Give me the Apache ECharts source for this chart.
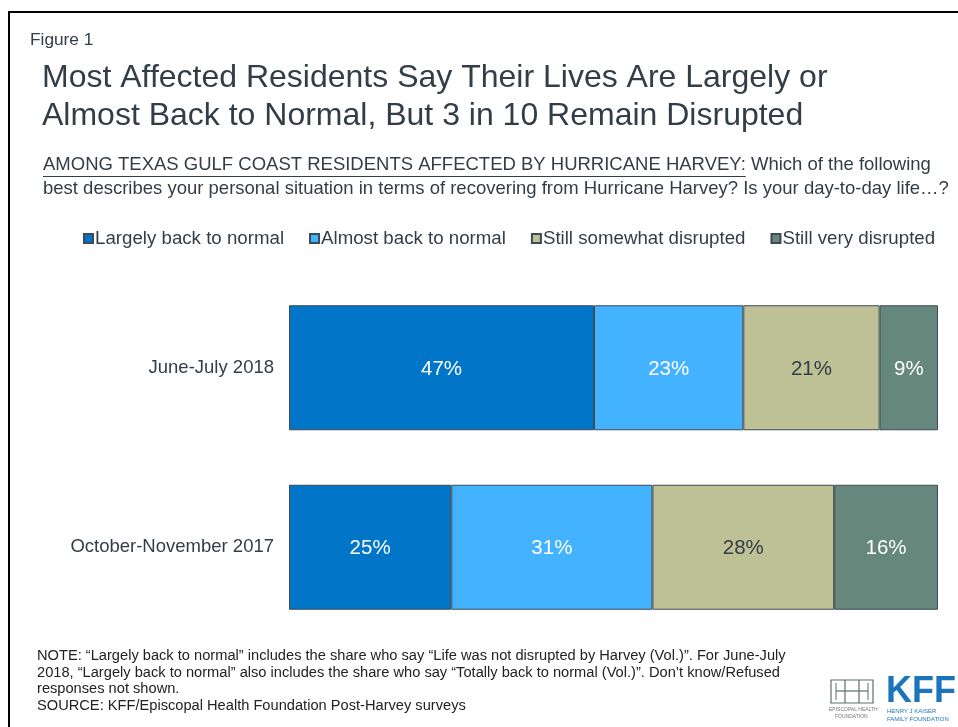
<!DOCTYPE html>
<html>
<head>
<meta charset="utf-8">
<script src="https://cdn.jsdelivr.net/npm/echarts@6/dist/echarts.min.js"></script>
<style>
  html, body { margin: 0; padding: 0; background: #fff; }
  #chart { width: 958px; height: 727px; }
</style>
</head>
<body>
<div id="chart"></div>
<script>
// Survey waves (top to bottom) and response categories
const waves = ['June-July 2018', 'October-November 2017'];
const responses = ['Largely back to normal', 'Almost back to normal', 'Still somewhat disrupted', 'Still very disrupted'];

// Share of respondents (%) per wave, one array per response
const largelyBack = [47, 25];
const almostBack = [23, 31];
const somewhatDisrupted = [21, 28];
const veryDisrupted = [9, 16];

const values = [largelyBack, almostBack, somewhatDisrupted, veryDisrupted];
const colors = ['#0176c9', '#44b3ff', '#bec196', '#66877b'];
const labelColors = ['#ffffff', '#ffffff', '#333d47', '#ffffff'];

const FONT = '"Liberation Sans", Arial, sans-serif';
const TEXT = '#333d47';

const noteLines = [
  'NOTE: \u201cLargely back to normal\u201d includes the share who say \u201cLife was not disrupted by Harvey (Vol.)\u201d. For June-July',
  '2018, \u201cLargely back to normal\u201d also includes the share who say \u201cTotally back to normal (Vol.)\u201d. Don\u2019t know/Refused',
  'responses not shown.',
  'SOURCE: KFF/Episcopal Health Foundation Post-Harvey surveys'
];

const qLead = 'AMONG TEXAS GULF COAST RESIDENTS AFFECTED BY HURRICANE HARVEY:';
const qRest = ' Which of the following';

function textWidth(str, size) {
  const c = document.createElement('canvas').getContext('2d');
  c.font = size + 'px ' + FONT;
  return c.measureText(str).width;
}

const chart = echarts.init(document.getElementById('chart'), null, { renderer: 'canvas' });

const series = responses.map((name, i) => ({
  name: name,
  type: 'bar',
  stack: 'total',
  barWidth: 125,
  data: values[i],
  itemStyle: { color: colors[i], borderColor: '#3e4a55', borderWidth: 1 },
  label: {
    show: true,
    position: 'inside',
    offset: [0, 1.5],
    formatter: '{c}%',
    fontFamily: FONT,
    fontSize: 20.5,
    color: labelColors[i]
  },
  emphasis: { disabled: true }
}));

const SUB = 18.5;
const leadW = textWidth(qLead, SUB);

const graphics = [
  // frame
  { type: 'line', shape: { x1: 8, y1: 12, x2: 958, y2: 12 }, style: { stroke: '#000', lineWidth: 2 } },
  { type: 'line', shape: { x1: 9, y1: 11, x2: 9, y2: 727 }, style: { stroke: '#000', lineWidth: 2 } },
  { type: 'text', left: 30, top: 32, style: { text: 'Figure 1', font: '17.3px ' + FONT, fill: TEXT } },
  { type: 'text', left: 42, top: 62, style: { text: 'Most Affected Residents Say Their Lives Are Largely or', font: '32px ' + FONT, fill: TEXT } },
  { type: 'text', left: 42, top: 100, style: { text: 'Almost Back to Normal, But 3 in 10 Remain Disrupted', font: '32px ' + FONT, fill: TEXT } },
  { type: 'text', left: 43, top: 155, style: { text: qLead + qRest, font: SUB + 'px ' + FONT, fill: TEXT } },
  { type: 'line', shape: { x1: 43, y1: 176.5, x2: 43 + leadW, y2: 176.5 }, style: { stroke: TEXT, lineWidth: 1 } },
  { type: 'text', left: 43, top: 179, style: { text: 'best describes your personal situation in terms of recovering from Hurricane Harvey? Is your day-to-day life\u2026?', font: SUB + 'px ' + FONT, fill: TEXT } }
];

noteLines.forEach((t, i) => {
  graphics.push({ type: 'text', left: 37, top: 648.5 + i * 16.7, style: { text: t, font: '14.65px ' + FONT, fill: '#222' } });
});

// Episcopal Health Foundation mark
const ehf = '#5d6e67';
graphics.push(
  { type: 'rect', shape: { x: 831, y: 680, width: 42, height: 23 }, style: { fill: 'none', stroke: ehf, lineWidth: 1.2 } },
  { type: 'line', shape: { x1: 845, y1: 680, x2: 845, y2: 703 }, style: { stroke: ehf, lineWidth: 1.2 } },
  { type: 'line', shape: { x1: 859, y1: 680, x2: 859, y2: 703 }, style: { stroke: ehf, lineWidth: 1.2 } },
  { type: 'line', shape: { x1: 836, y1: 691, x2: 868, y2: 691 }, style: { stroke: ehf, lineWidth: 1.2 } },
  { type: 'line', shape: { x1: 836, y1: 683, x2: 836, y2: 700 }, style: { stroke: ehf, lineWidth: 1 } },
  { type: 'line', shape: { x1: 868, y1: 683, x2: 868, y2: 700 }, style: { stroke: ehf, lineWidth: 1 } },
  { type: 'text', left: 829, top: 707, style: { text: 'EPISCOPAL HEALTH', font: '5px ' + FONT, fill: '#777' } },
  { type: 'text', left: 835, top: 714, style: { text: 'FOUNDATION', font: '5px ' + FONT, fill: '#777' } },
  { type: 'text', left: 886, top: 674, style: { text: 'KFF', font: 'bold 36px ' + FONT, fill: '#1b75bb' } },
  { type: 'text', left: 887, top: 708, style: { text: 'HENRY J KAISER', font: '6px ' + FONT, fill: '#1b75bb' } },
  { type: 'text', left: 887, top: 716, style: { text: 'FAMILY FOUNDATION', font: '6px ' + FONT, fill: '#1b75bb' } }
);

chart.setOption({
  animation: false,
  backgroundColor: '#ffffff',
  color: colors,
  legend: {
    left: 78,
    top: 224,
    itemWidth: 9,
    itemHeight: 9,
    itemGap: 25,
    icon: 'rect',
    textStyle: { fontFamily: FONT, fontSize: 18.7, color: TEXT, padding: [0, 0, 0, -3] },
    data: responses
  },
  grid: { left: 289, right: 20, top: 278, bottom: 90, containLabel: false },
  xAxis: {
    type: 'value',
    min: 0,
    max: 100,
    show: false
  },
  yAxis: {
    type: 'category',
    data: waves,
    inverse: true,
    axisLine: { show: false },
    axisTick: { show: false },
    axisLabel: { fontFamily: FONT, fontSize: 18.5, color: TEXT, margin: 15 }
  },
  series: series,
  graphic: graphics
});
</script>
</body>
</html>
